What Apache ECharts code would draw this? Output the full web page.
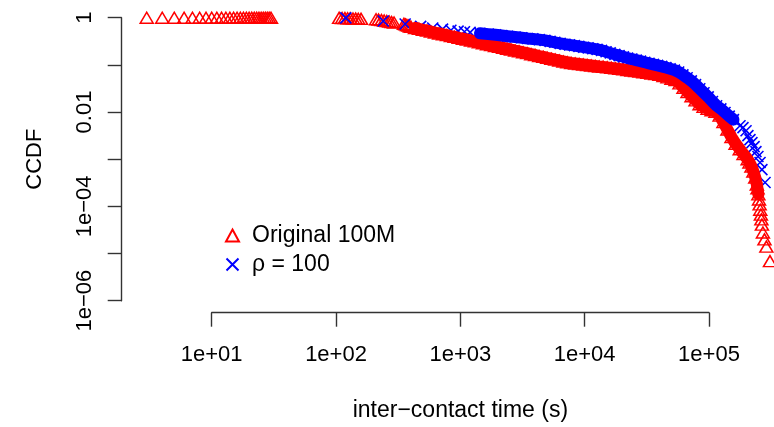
<!DOCTYPE html>
<html>
<head>
<meta charset="utf-8">
<script src="https://cdn.jsdelivr.net/npm/echarts@6/dist/echarts.min.js"></script>
<style>
  html, body { margin: 0; padding: 0; background: #fff; }
  #chart { width: 774px; height: 427px; }
</style>
</head>
<body>
<div id="chart"></div>
<script>
// Inter-contact times (s) and their empirical CCDF for the original 100M trace
const origTime = [
  3, 4, 5, 6, 7, 8, 9, 10, 11, 12, 13, 14, 15, 16, 17, 18, 19, 20, 21, 22, 23, 24, 25, 26, 27, 28, 29, 30,
  106, 112, 118, 124, 130, 137, 144, 151, 159,
  210, 220, 232, 244, 256, 268, 280, 293,
  352, 362, 372, 382, 392, 401,
  432, 465, 500, 540, 580, 625, 675, 725, 780, 840, 900, 970, 1050, 1130, 1220, 1310, 1410, 1520,
  1640, 1770, 1900, 2050, 2210, 2380, 2560, 2760, 2970, 3200, 3450, 3720, 4000, 4310, 4650, 5000,
  5400, 5800, 6250, 6750, 7250, 7800, 8400, 9050, 9750, 10500, 11300, 12200, 13100, 14100, 15200,
  16400, 17700, 19000, 20500, 22100, 23800, 25600, 27600, 29700, 32000, 34500, 37100, 40000, 43100,
  46400, 50000, 53900, 58000, 62500, 67300, 72500, 78100, 84100, 90600, 97600, 105000, 113000,
  122000, 131000, 141000, 152000, 164000, 177000, 190000, 205000, 212000, 220000, 228000, 236000,
  243000, 246000, 250000, 253000, 256000, 259000, 262000, 264500, 267000, 272000, 280000, 290000, 310000
];
const origCcdf = [
  1, 1, 1, 1, 1, 1, 1, 1, 1, 1, 1, 1, 1, 1, 1, 1, 1, 1, 1, 1, 1, 1, 1, 1, 1, 1, 1, 1,
  0.99, 0.985, 0.98, 0.975, 0.97, 0.96, 0.955, 0.95, 0.945,
  0.93, 0.91, 0.89, 0.87, 0.85, 0.83, 0.81, 0.79,
  0.74, 0.72, 0.70, 0.68, 0.66, 0.64,
  0.606, 0.580, 0.555, 0.531, 0.508, 0.486, 0.463, 0.446, 0.427, 0.408, 0.393, 0.374, 0.358, 0.343,
  0.328, 0.314, 0.301, 0.288,
  0.274, 0.262, 0.251, 0.240, 0.230, 0.220, 0.211, 0.201, 0.193, 0.185, 0.177, 0.168, 0.162, 0.154,
  0.148, 0.141,
  0.135, 0.129, 0.124, 0.118, 0.1135, 0.1096, 0.107, 0.1045, 0.102, 0.0995, 0.0971, 0.0948, 0.0925,
  0.0908, 0.0885,
  0.0864, 0.0843, 0.0823, 0.0803, 0.078, 0.0757, 0.0739, 0.0718, 0.0698, 0.0678, 0.0658, 0.0639,
  0.0618, 0.058,
  0.0544, 0.0508, 0.0475, 0.0404, 0.0328, 0.0266, 0.0216, 0.0177, 0.0146, 0.0129, 0.0117, 0.0109,
  0.0101,
  0.0084, 0.0061, 0.00425, 0.00293, 0.00213, 0.00163, 0.00128, 0.001, 0.00085, 0.0007, 0.00055,
  0.00041,
  0.00029, 0.00024, 0.00018, 0.00014, 0.00011, 0.000085, 0.000067, 0.000053, 0.000041, 0.000028,
  0.00002, 0.000014, 0.0000069
];

// Same measure after re-sampling with rho = 100
const rhoTime = [
  120, 240, 360, 480, 600, 720, 840, 960, 1080, 1200, 1440, 1680, 1920, 2160, 2400, 2760, 3120, 3480,
  3840, 4320, 4800, 5280, 5760, 6360, 6960, 7560, 8280, 9000, 9840, 10680, 11640, 12600, 13680,
  14880, 16080, 17520, 18960, 20520, 22200, 24000, 26040, 28200, 30480, 33000, 35760, 38640, 41760,
  45120, 48840, 52800, 57120, 61800, 66840, 72240, 78120, 84480, 91320, 98760, 106800, 115440,
  124800, 134880, 145800, 157560,
  178000, 188000, 199000, 206000, 214000, 222000, 231000, 239000, 248000, 258000, 267000, 283000
];
const rhoCcdf = [
  0.99, 0.852, 0.736, 0.655, 0.605, 0.571, 0.542, 0.519, 0.503, 0.489, 0.466, 0.448, 0.433, 0.419,
  0.405, 0.389, 0.376, 0.363,
  0.355, 0.343, 0.330, 0.314, 0.301, 0.286, 0.274, 0.265, 0.256, 0.246, 0.237, 0.229, 0.220, 0.213,
  0.203,
  0.190, 0.179, 0.167, 0.157, 0.148, 0.139, 0.133, 0.126, 0.120, 0.1135, 0.108, 0.1025, 0.0976,
  0.0929,
  0.0877, 0.0823, 0.0776, 0.0705, 0.0615, 0.0533, 0.0459, 0.0381, 0.0311, 0.0256, 0.0209, 0.0167,
  0.0136,
  0.0117, 0.0098, 0.0082, 0.0069,
  0.00513, 0.00466, 0.00402, 0.00316, 0.0026, 0.00224, 0.00185, 0.00145, 0.00114, 0.00085, 0.0006,
  0.00032
];

// Stretches where the markers pile up into a solid band (index ranges, inclusive)
const origBand = [origTime.indexOf(432), origTime.indexOf(250000)];
const rhoBand = [rhoTime.indexOf(1440), rhoTime.indexOf(157560)];

// Axis tick labels
const xTickLabels = ['1e+01', '1e+02', '1e+03', '1e+04', '1e+05'];
const yTickExponents = [0, -2, -4, -6];
const yTickLabels = ['1', '0.01', '1e\u221204', '1e\u221206'];

const seriesNames = ['Original 100M', '\u03c1 = 100'];
const colors = ['#ff0000', '#0000ff'];
const font = '"Liberation Sans", Arial, Helvetica, sans-serif';

const pairs = (xs, ys) => xs.map((x, i) => [x, ys[i]]);
const origData = pairs(origTime, origCcdf);
const rhoData = pairs(rhoTime, rhoCcdf);

const axisLine = { show: true, lineStyle: { color: '#333', width: 1.4 } };
const axisTick = { show: true, length: 14, lineStyle: { color: '#333', width: 1.4 } };

// 124.3 px per decade horizontally; the plotting plane runs from 10^0 to 10^5.5
const planeXMax = Math.pow(10, 5.5);

const chart = echarts.init(document.getElementById('chart'), null, { renderer: 'canvas' });
chart.setOption({
  backgroundColor: '#fff',
  animation: false,
  textStyle: { fontFamily: font },
  grid: [
    // frame of the drawn axes: 1e+01 .. 1e+05 and 1e-06 .. 1
    { left: 211.7, right: 65, top: 17.7, bottom: 126.3 },
    // plotting plane, same scale, wider x range
    { left: 87.4, right: 2.95, top: 17.7, bottom: 126.3 }
  ],
  xAxis: [
    {
      gridIndex: 0, type: 'log', logBase: 10, min: 10, max: 1e5, splitNumber: 4,
      offset: 12,
      axisLine, axisTick,
      splitLine: { show: false },
      axisLabel: {
        margin: 31, fontSize: 22, color: '#000', fontFamily: font,
        formatter: v => xTickLabels[Math.round(Math.log10(v)) - 1] || ''
      },
      name: 'inter\u2212contact time (s)',
      nameLocation: 'middle', nameGap: 86,
      nameTextStyle: { fontSize: 23, color: '#000', fontFamily: font }
    },
    { gridIndex: 1, type: 'log', logBase: 10, min: 1, max: planeXMax, show: false }
  ],
  yAxis: [
    {
      gridIndex: 0, type: 'log', logBase: 10, min: 1e-6, max: 1, splitNumber: 6,
      offset: 90,
      axisLine, axisTick,
      splitLine: { show: false },
      axisLabel: {
        rotate: 90, margin: 26, fontSize: 22, color: '#000', fontFamily: font,
        formatter: v => {
          const i = yTickExponents.indexOf(Math.round(Math.log10(v)));
          return i >= 0 ? yTickLabels[i] : '';
        }
      },
      name: 'CCDF',
      nameLocation: 'middle', nameGap: 76,
      nameTextStyle: { fontSize: 22, color: '#000', fontFamily: font }
    },
    { gridIndex: 1, type: 'log', logBase: 10, min: 1e-6, max: 1, show: false }
  ],
  legend: {
    orient: 'vertical', left: 220, top: 219,
    itemWidth: 13, itemHeight: 12, itemGap: 6,
    selectedMode: false,
    textStyle: { fontSize: 23, color: '#000', fontFamily: font, padding: [0, 0, 0, 8] },
    data: seriesNames
  },
  series: [
    {
      type: 'line', xAxisIndex: 1, yAxisIndex: 1, silent: true,
      data: origData.slice(origBand[0], origBand[1] + 1),
      symbol: 'none', clip: false,
      lineStyle: { color: colors[0], width: 12, join: 'round', cap: 'round' }
    },
    {
      name: seriesNames[0], type: 'scatter', xAxisIndex: 1, yAxisIndex: 1, silent: true,
      data: origData, clip: false,
      symbol: 'triangle', symbolSize: [13, 11],
      itemStyle: { color: 'rgba(0,0,0,0)', borderColor: colors[0], borderWidth: 1.5, opacity: 1 }
    },
    {
      type: 'line', xAxisIndex: 1, yAxisIndex: 1, silent: true,
      data: rhoData.slice(rhoBand[0], rhoBand[1] + 1),
      symbol: 'none', clip: false,
      lineStyle: { color: colors[1], width: 12, join: 'round', cap: 'round' }
    },
    {
      name: seriesNames[1], type: 'scatter', xAxisIndex: 1, yAxisIndex: 1, silent: true,
      data: rhoData, clip: false,
      symbol: 'path://M0,0L10,10M10,0L0,10', symbolSize: 11,
      itemStyle: { color: 'rgba(0,0,0,0)', borderColor: colors[1], borderWidth: 1.6, opacity: 1 }
    }
  ]
});
</script>
</body>
</html>
